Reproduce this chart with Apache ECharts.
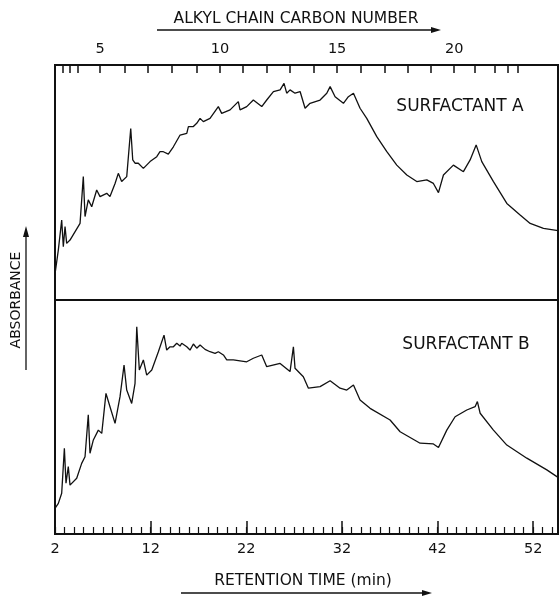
<!DOCTYPE html>
<html>
<head>
<meta charset="utf-8">
<script src="https://cdn.jsdelivr.net/npm/echarts@6/dist/echarts.min.js"></script>
<style>
  html, body { margin: 0; padding: 0; background: #fff; }
  #chart { width: 560px; height: 600px; }
</style>
</head>
<body>
<div id="chart"></div>
<script>
// Retention-time range of the chromatogram (min)
const timeMin = 2;
const timeMax = 54.6;

// Bottom scale: labelled retention times
const timeTickLabels = [2, 12, 22, 32, 42, 52];

// Top scale: alkyl chain carbon number and the retention time where each elutes
const carbonNumbers = [2, 3, 4, 5, 6, 7, 8, 9, 10, 11, 12, 13, 14, 15, 16, 17, 18, 19, 20, 21, 22, 23, 24];
const carbonTimes = [2.84, 3.57, 4.41, 6.71, 9.32, 11.73, 14.24, 16.85, 19.26, 21.67, 24.18, 26.58,
  29.09, 31.50, 34.01, 36.52, 38.92, 41.33, 43.74, 45.93, 48.03, 49.39, 50.43];
const carbonLabels = [5, 10, 15, 20];

// Surfactant A trace: retention time (min) and relative absorbance
const surfactantATime = [2.0, 2.35, 2.70, 2.87, 3.05, 3.22, 3.57, 4.62, 4.96, 5.14, 5.48, 5.84, 6.36, 6.71,
  7.41, 7.75, 8.28, 8.62, 8.97, 9.50, 9.92, 10.13, 10.37, 10.71, 11.24, 11.94, 12.64, 12.98, 13.33, 13.51,
  13.85, 14.03, 14.38, 15.08, 15.25, 15.78, 15.95, 16.12, 16.47, 16.82, 17.17, 17.51, 18.21, 19.08, 19.43,
  20.31, 21.17, 21.35, 22.05, 22.74, 23.62, 24.14, 24.84, 25.54, 25.95, 26.23, 26.58, 27.10, 27.63, 28.15,
  28.67, 29.72, 30.42, 30.77, 31.29, 32.16, 32.68, 33.21, 33.90, 34.60, 35.65, 36.70, 37.74, 38.79, 39.83,
  40.88, 41.57, 42.10, 42.62, 43.66, 44.71, 45.41, 46.04, 46.63, 47.85, 49.25, 50.64, 51.69, 53.08, 54.6];
const surfactantAAbs = [11, 21.3, 34, 22.7, 31.2, 24.1, 25.5, 32.6, 52.5, 35.5, 42.6, 39.7, 46.8, 44,
  45.4, 44, 49.6, 53.9, 50.4, 52.5, 73, 59.6, 58.2, 58.2, 56, 58.9, 61, 63.1, 63.1, 63.8,
  62.1, 62.4, 65.2, 70.2, 69.8, 70.9, 73.8, 74.5, 73.8, 75.2, 77.3, 75.9, 77.3, 82.3, 79.4,
  80.9, 84.4, 80.9, 82.3, 85.1, 82.3, 85.1, 88.7, 89.4, 92.2, 88, 89.4, 88, 88.7, 81.6,
  83.7, 85.1, 88, 90.8, 86.5, 83.7, 86.5, 88, 81.6, 77.3, 69.5, 63.1, 57.4, 53.2, 50.4,
  51.1, 49.6, 45.7, 53.2, 57.4, 54.6, 59.6, 66, 58.9, 50.4, 41.1, 36.2, 32.6, 30.5, 29.5];

// Surfactant B trace: retention time (min) and relative absorbance
const surfactantBTime = [2.0, 2.35, 2.70, 2.98, 3.15, 3.39, 3.57, 4.27, 4.79, 5.14, 5.48, 5.66, 6.01, 6.53,
  6.89, 7.33, 7.75, 8.28, 8.80, 9.22, 9.50, 10.02, 10.37, 10.55, 10.82, 11.24, 11.59, 12.12, 12.81, 13.40,
  13.68, 14.03, 14.38, 14.73, 15.08, 15.25, 15.42, 15.78, 16.12, 16.47, 16.82, 17.17, 17.69, 18.21, 18.74,
  19.08, 19.61, 19.96, 20.65, 22.05, 22.74, 23.62, 24.14, 25.54, 26.58, 26.93, 27.10, 27.97, 28.50, 29.72,
  30.77, 31.81, 32.51, 33.21, 33.90, 34.95, 37.04, 38.09, 40.18, 41.57, 42.10, 42.97, 43.84, 45.06, 45.93,
  46.17, 46.46, 47.85, 49.25, 51.34, 53.43, 54.6];
const surfactantBAbs = [11, 13.1, 17.4, 36.6, 21.7, 28.8, 20.9, 23.8, 30.2, 33, 50.9, 34.5, 40.2, 44.4,
  43, 60.1, 54.4, 47.3, 58.7, 72.2, 61.5, 55.8, 64.4, 88.6, 70.1, 74.4, 67.9, 70.1, 77.9, 85,
  78.6, 80, 80, 81.5, 80.3, 81.5, 82.2, 80, 78.6, 81.2, 79.4, 80.8, 78.9, 77.9, 77.2,
  77.9, 76.5, 74.4, 74.4, 73.6, 75.1, 76.5, 71.5, 72.9, 69.4, 80, 70.8, 67.2, 62.3, 63,
  65.5, 62.3, 61.5, 63.7, 57.3, 53.7, 48.7, 43.7, 38.8, 38.5, 37, 44.4, 50.1, 53, 54.4,
  56.6, 51.6, 44.4, 38, 32.4, 27.4, 24.2];

const toPairs = (xs, ys) => xs.map((x, i) => [x, ys[i]]);

// Minor retention-time ticks, one per minute
const minuteTicks = [];
for (let m = timeMin; m <= Math.floor(timeMax); m++) minuteTicks.push(m);

const FONT = 'DejaVu Sans';
const INK = '#111';

const chart = echarts.init(document.getElementById('chart'), null, { renderer: 'canvas' });

const panelGrid = (top, height) => ({
  left: 55, width: 503, top: top, height: height,
  show: true, borderColor: INK, borderWidth: 2, backgroundColor: 'transparent',
  containLabel: false
});

const hiddenY = (gridIndex) => ({
  type: 'value', gridIndex: gridIndex, min: 0, max: 100, show: false
});

// Arrow drawn under an axis title
const arrow = (x1, x2, y) => ([
  { type: 'line', shape: { x1: x1, y1: y, x2: x2 - 8, y2: y }, style: { stroke: INK, lineWidth: 1.3 } },
  { type: 'polygon', shape: { points: [[x2, y], [x2 - 10, y - 3], [x2 - 10, y + 3]] }, style: { fill: INK } }
]);

chart.setOption({
  animation: false,
  backgroundColor: '#fff',
  grid: [panelGrid(65, 235), panelGrid(300, 234)],
  xAxis: [
    {
      // carbon-number scale across the top of the upper panel
      type: 'value', gridIndex: 0, position: 'top', min: timeMin, max: timeMax,
      axisLine: { show: false, onZero: false },
      splitLine: { show: false },
      axisTick: { show: true, inside: true, length: 8, customValues: carbonTimes,
        lineStyle: { color: INK, width: 1.5 } },
      axisLabel: {
        show: true, margin: 8, color: INK, fontFamily: FONT, fontSize: 14.5,
        customValues: carbonLabels.map(c => carbonTimes[carbonNumbers.indexOf(c)]),
        formatter: (v) => {
          const i = carbonTimes.findIndex(t => Math.abs(t - v) < 1e-6);
          return i >= 0 ? String(carbonNumbers[i]) : '';
        }
      }
    },
    {
      // retention-time scale: labelled major ticks
      type: 'value', gridIndex: 1, position: 'bottom', min: timeMin, max: timeMax,
      axisLine: { show: false, onZero: false },
      splitLine: { show: false },
      axisTick: { show: true, inside: true, length: 13, customValues: timeTickLabels,
        lineStyle: { color: INK, width: 1.5 } },
      axisLabel: {
        show: true, margin: 8, color: INK, fontFamily: FONT, fontSize: 14.5,
        customValues: timeTickLabels
      }
    },
    {
      // retention-time scale: one-minute ticks
      type: 'value', gridIndex: 1, position: 'bottom', offset: 0, min: timeMin, max: timeMax,
      axisLine: { show: false, onZero: false },
      splitLine: { show: false },
      axisTick: { show: true, inside: true, length: 7, customValues: minuteTicks,
        lineStyle: { color: INK, width: 1.2 } },
      axisLabel: { show: false }
    }
  ],
  yAxis: [hiddenY(0), hiddenY(1)],
  series: [
    {
      name: 'SURFACTANT A', type: 'line', xAxisIndex: 0, yAxisIndex: 0,
      data: toPairs(surfactantATime, surfactantAAbs),
      showSymbol: false, smooth: false,
      lineStyle: { color: INK, width: 1.3 }
    },
    {
      name: 'SURFACTANT B', type: 'line', xAxisIndex: 1, yAxisIndex: 1,
      data: toPairs(surfactantBTime, surfactantBAbs),
      showSymbol: false, smooth: false,
      lineStyle: { color: INK, width: 1.3 }
    }
  ],
  graphic: [
    { type: 'text', x: 296, y: 19,
      style: { text: 'ALKYL CHAIN CARBON NUMBER', font: '15.5px "DejaVu Sans"', fill: INK, align: 'center', verticalAlign: 'middle' } },
    ...arrow(157, 441, 30),
    { type: 'text', x: 303, y: 581,
      style: { text: 'RETENTION TIME (min)', font: '15.5px "DejaVu Sans"', fill: INK, align: 'center', verticalAlign: 'middle' } },
    ...arrow(181, 432, 593),
    { type: 'text', x: 16, y: 300, rotation: Math.PI / 2,
      style: { text: 'ABSORBANCE', font: '14px "DejaVu Sans"', fill: INK, align: 'center', verticalAlign: 'middle' } },
    { type: 'line', shape: { x1: 26, y1: 370, x2: 26, y2: 236 }, style: { stroke: INK, lineWidth: 1.3 } },
    { type: 'polygon', shape: { points: [[26, 226], [23, 237], [29, 237]] }, style: { fill: INK } },
    { type: 'text', x: 460, y: 107,
      style: { text: 'SURFACTANT A', font: '17px "DejaVu Sans"', fill: INK, align: 'center', verticalAlign: 'middle' } },
    { type: 'text', x: 466, y: 345,
      style: { text: 'SURFACTANT B', font: '17px "DejaVu Sans"', fill: INK, align: 'center', verticalAlign: 'middle' } }
  ]
});
</script>
</body>
</html>
